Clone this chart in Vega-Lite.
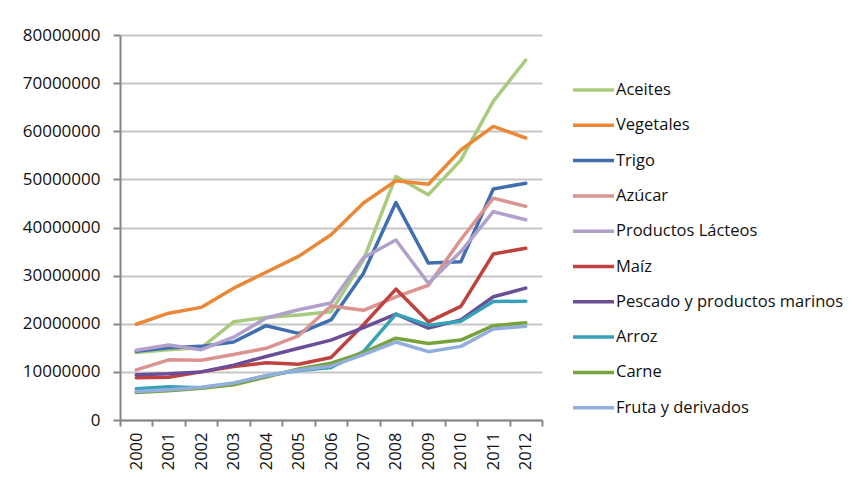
{
  "$schema": "https://vega.github.io/schema/vega-lite/v6.json",
  "width": 422,
  "height": 385,
  "autosize": {"type": "none"},
  "padding": {"left": 120, "top": 35, "right": 311, "bottom": 59},
  "background": "white",
  "config": {"view": {"stroke": null}, "font": "Open Sans"},
  "datasets": {
    "series": [
      {"product": "Aceites", "year": "2000", "value": 14000000},
      {"product": "Aceites", "year": "2001", "value": 14600000},
      {"product": "Aceites", "year": "2002", "value": 15000000},
      {"product": "Aceites", "year": "2003", "value": 20400000},
      {"product": "Aceites", "year": "2004", "value": 21300000},
      {"product": "Aceites", "year": "2005", "value": 21800000},
      {"product": "Aceites", "year": "2006", "value": 22500000},
      {"product": "Aceites", "year": "2007", "value": 33300000},
      {"product": "Aceites", "year": "2008", "value": 50600000},
      {"product": "Aceites", "year": "2009", "value": 46800000},
      {"product": "Aceites", "year": "2010", "value": 54000000},
      {"product": "Aceites", "year": "2011", "value": 66200000},
      {"product": "Aceites", "year": "2012", "value": 74800000},
      {"product": "Vegetales", "year": "2000", "value": 19900000},
      {"product": "Vegetales", "year": "2001", "value": 22200000},
      {"product": "Vegetales", "year": "2002", "value": 23400000},
      {"product": "Vegetales", "year": "2003", "value": 27400000},
      {"product": "Vegetales", "year": "2004", "value": 30700000},
      {"product": "Vegetales", "year": "2005", "value": 34000000},
      {"product": "Vegetales", "year": "2006", "value": 38500000},
      {"product": "Vegetales", "year": "2007", "value": 45100000},
      {"product": "Vegetales", "year": "2008", "value": 49700000},
      {"product": "Vegetales", "year": "2009", "value": 49000000},
      {"product": "Vegetales", "year": "2010", "value": 56100000},
      {"product": "Vegetales", "year": "2011", "value": 61000000},
      {"product": "Vegetales", "year": "2012", "value": 58600000},
      {"product": "Trigo", "year": "2000", "value": 14300000},
      {"product": "Trigo", "year": "2001", "value": 15000000},
      {"product": "Trigo", "year": "2002", "value": 15300000},
      {"product": "Trigo", "year": "2003", "value": 16200000},
      {"product": "Trigo", "year": "2004", "value": 19600000},
      {"product": "Trigo", "year": "2005", "value": 18000000},
      {"product": "Trigo", "year": "2006", "value": 20800000},
      {"product": "Trigo", "year": "2007", "value": 30500000},
      {"product": "Trigo", "year": "2008", "value": 45200000},
      {"product": "Trigo", "year": "2009", "value": 32600000},
      {"product": "Trigo", "year": "2010", "value": 32900000},
      {"product": "Trigo", "year": "2011", "value": 48000000},
      {"product": "Trigo", "year": "2012", "value": 49200000},
      {"product": "Azúcar", "year": "2000", "value": 10400000},
      {"product": "Azúcar", "year": "2001", "value": 12500000},
      {"product": "Azúcar", "year": "2002", "value": 12400000},
      {"product": "Azúcar", "year": "2003", "value": 13600000},
      {"product": "Azúcar", "year": "2004", "value": 14900000},
      {"product": "Azúcar", "year": "2005", "value": 17500000},
      {"product": "Azúcar", "year": "2006", "value": 23700000},
      {"product": "Azúcar", "year": "2007", "value": 22800000},
      {"product": "Azúcar", "year": "2008", "value": 25600000},
      {"product": "Azúcar", "year": "2009", "value": 28000000},
      {"product": "Azúcar", "year": "2010", "value": 37500000},
      {"product": "Azúcar", "year": "2011", "value": 46100000},
      {"product": "Azúcar", "year": "2012", "value": 44400000},
      {"product": "Productos Lácteos", "year": "2000", "value": 14500000},
      {"product": "Productos Lácteos", "year": "2001", "value": 15600000},
      {"product": "Productos Lácteos", "year": "2002", "value": 14600000},
      {"product": "Productos Lácteos", "year": "2003", "value": 17200000},
      {"product": "Productos Lácteos", "year": "2004", "value": 21200000},
      {"product": "Productos Lácteos", "year": "2005", "value": 22900000},
      {"product": "Productos Lácteos", "year": "2006", "value": 24300000},
      {"product": "Productos Lácteos", "year": "2007", "value": 33700000},
      {"product": "Productos Lácteos", "year": "2008", "value": 37400000},
      {"product": "Productos Lácteos", "year": "2009", "value": 28400000},
      {"product": "Productos Lácteos", "year": "2010", "value": 35000000},
      {"product": "Productos Lácteos", "year": "2011", "value": 43300000},
      {"product": "Productos Lácteos", "year": "2012", "value": 41600000},
      {"product": "Maíz", "year": "2000", "value": 8800000},
      {"product": "Maíz", "year": "2001", "value": 8900000},
      {"product": "Maíz", "year": "2002", "value": 10000000},
      {"product": "Maíz", "year": "2003", "value": 11100000},
      {"product": "Maíz", "year": "2004", "value": 11900000},
      {"product": "Maíz", "year": "2005", "value": 11600000},
      {"product": "Maíz", "year": "2006", "value": 13000000},
      {"product": "Maíz", "year": "2007", "value": 19800000},
      {"product": "Maíz", "year": "2008", "value": 27200000},
      {"product": "Maíz", "year": "2009", "value": 20400000},
      {"product": "Maíz", "year": "2010", "value": 23600000},
      {"product": "Maíz", "year": "2011", "value": 34500000},
      {"product": "Maíz", "year": "2012", "value": 35700000},
      {"product": "Pescado y productos marinos", "year": "2000", "value": 9400000},
      {"product": "Pescado y productos marinos", "year": "2001", "value": 9600000},
      {"product": "Pescado y productos marinos", "year": "2002", "value": 10000000},
      {"product": "Pescado y productos marinos", "year": "2003", "value": 11400000},
      {"product": "Pescado y productos marinos", "year": "2004", "value": 13200000},
      {"product": "Pescado y productos marinos", "year": "2005", "value": 14900000},
      {"product": "Pescado y productos marinos", "year": "2006", "value": 16600000},
      {"product": "Pescado y productos marinos", "year": "2007", "value": 19200000},
      {"product": "Pescado y productos marinos", "year": "2008", "value": 22000000},
      {"product": "Pescado y productos marinos", "year": "2009", "value": 19100000},
      {"product": "Pescado y productos marinos", "year": "2010", "value": 20800000},
      {"product": "Pescado y productos marinos", "year": "2011", "value": 25600000},
      {"product": "Pescado y productos marinos", "year": "2012", "value": 27400000},
      {"product": "Arroz", "year": "2000", "value": 6500000},
      {"product": "Arroz", "year": "2001", "value": 6900000},
      {"product": "Arroz", "year": "2002", "value": 6700000},
      {"product": "Arroz", "year": "2003", "value": 7600000},
      {"product": "Arroz", "year": "2004", "value": 9200000},
      {"product": "Arroz", "year": "2005", "value": 10300000},
      {"product": "Arroz", "year": "2006", "value": 10900000},
      {"product": "Arroz", "year": "2007", "value": 14200000},
      {"product": "Arroz", "year": "2008", "value": 22000000},
      {"product": "Arroz", "year": "2009", "value": 19700000},
      {"product": "Arroz", "year": "2010", "value": 20500000},
      {"product": "Arroz", "year": "2011", "value": 24600000},
      {"product": "Arroz", "year": "2012", "value": 24700000},
      {"product": "Carne", "year": "2000", "value": 5700000},
      {"product": "Carne", "year": "2001", "value": 6100000},
      {"product": "Carne", "year": "2002", "value": 6600000},
      {"product": "Carne", "year": "2003", "value": 7300000},
      {"product": "Carne", "year": "2004", "value": 8900000},
      {"product": "Carne", "year": "2005", "value": 10600000},
      {"product": "Carne", "year": "2006", "value": 11800000},
      {"product": "Carne", "year": "2007", "value": 14000000},
      {"product": "Carne", "year": "2008", "value": 17000000},
      {"product": "Carne", "year": "2009", "value": 15900000},
      {"product": "Carne", "year": "2010", "value": 16600000},
      {"product": "Carne", "year": "2011", "value": 19600000},
      {"product": "Carne", "year": "2012", "value": 20200000},
      {"product": "Fruta y derivados", "year": "2000", "value": 5900000},
      {"product": "Fruta y derivados", "year": "2001", "value": 6300000},
      {"product": "Fruta y derivados", "year": "2002", "value": 6800000},
      {"product": "Fruta y derivados", "year": "2003", "value": 7700000},
      {"product": "Fruta y derivados", "year": "2004", "value": 9200000},
      {"product": "Fruta y derivados", "year": "2005", "value": 10400000},
      {"product": "Fruta y derivados", "year": "2006", "value": 11200000},
      {"product": "Fruta y derivados", "year": "2007", "value": 13600000},
      {"product": "Fruta y derivados", "year": "2008", "value": 16200000},
      {"product": "Fruta y derivados", "year": "2009", "value": 14200000},
      {"product": "Fruta y derivados", "year": "2010", "value": 15300000},
      {"product": "Fruta y derivados", "year": "2011", "value": 18900000},
      {"product": "Fruta y derivados", "year": "2012", "value": 19500000}
    ]
  },
  "data": {"name": "series"},
  "mark": {"type": "line", "strokeWidth": 3.5, "strokeCap": "round", "strokeJoin": "round"},
  "encoding": {
    "x": {
      "field": "year",
      "type": "ordinal",
      "scale": {"paddingInner": 0, "paddingOuter": 0},
      "axis": {
        "title": null,
        "labelAngle": -90,
        "labelFontSize": 16.5,
        "labelColor": "#111111",
        "tickBand": "extent",
        "domainColor": "#868686",
        "domainWidth": 2,
        "tickColor": "#868686",
        "tickWidth": 2,
        "tickSize": 6,
        "labelPadding": 6,
        "grid": false
      }
    },
    "y": {
      "field": "value",
      "type": "quantitative",
      "scale": {"domain": [0, 80000000], "nice": false},
      "axis": {
        "title": null,
        "values": [0, 10000000, 20000000, 30000000, 40000000, 50000000, 60000000, 70000000, 80000000],
        "format": "d",
        "labelFontSize": 17,
        "labelColor": "#111111",
        "gridColor": "#c6c6c6",
        "gridWidth": 2,
        "domainColor": "#868686",
        "domainWidth": 2,
        "tickColor": "#868686",
        "tickWidth": 2,
        "tickSize": 7,
        "labelPadding": 13
      }
    },
    "color": {
      "field": "product",
      "type": "nominal",
      "scale": {
        "domain": ["Aceites", "Vegetales", "Trigo", "Azúcar", "Productos Lácteos", "Maíz", "Pescado y productos marinos", "Arroz", "Carne", "Fruta y derivados"],
        "range": ["#A8CB7E", "#EB8838", "#3F6FAF", "#DA9391", "#B1A0CC", "#BE4240", "#6A4E98", "#37A1B8", "#78A23C", "#92AEDD"]
      },
      "legend": {
        "title": null,
        "orient": "none",
        "legendX": 451,
        "legendY": 45,
        "padding": 0,
        "symbolType": "stroke",
        "symbolSize": 1681,
        "symbolStrokeWidth": 3.5,
        "clipHeight": 20,
        "rowPadding": 15.3,
        "labelFontSize": 16.5,
        "labelColor": "#111111",
        "labelOffset": 0,
        "labelLimit": 400
      }
    }
  }
}
